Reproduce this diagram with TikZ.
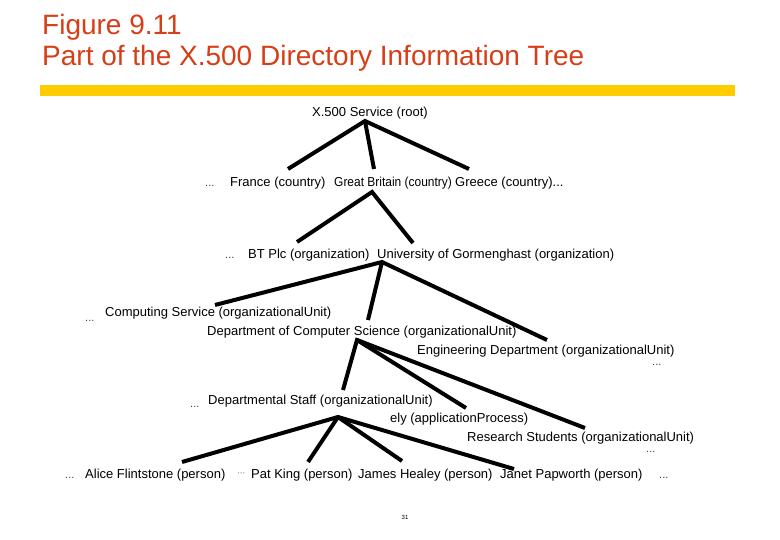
\documentclass[tikz,border=0pt]{standalone}
\usepackage{fontspec}
\usepackage{graphicx}
\setmainfont{Liberation Sans}
\definecolor{titlered}{RGB}{214,62,22}
\definecolor{baryellow}{RGB}{255,204,0}
\begin{document}
\begin{tikzpicture}[x=1pt,y=-1pt,
  lbl/.style={anchor=base west,inner sep=0pt,font=\fontsize{13}{15}\selectfont},
  dots/.style={anchor=base west,inner sep=0pt,text=black!75,font=\fontsize{11}{13}\selectfont},
  ttl/.style={anchor=base west,inner sep=0pt,text=titlered,font=\fontsize{28}{30}\selectfont},
  edge/.style={line width=4pt,black}]
\useasboundingbox (0,0) rectangle (780,540);
% title
\node[ttl] (t1) at (42,35) {Figure 9.11};
\node[ttl] (t2) at (42,66) {Part of the X.500 Directory Information Tree};
\fill[baryellow] (40,85) rectangle (735,96);
% nodes
\node[lbl] (root) at (312,117) {X.500 Service (root)};
\node[dots] (d1) at (205,187) {...};
\node[lbl] (fr) at (230,187) {France (country)};
\node[lbl] (gb) at (334,187) {\scalebox{0.92}[1]{Great Britain (country)}};
\node[lbl] (gr) at (455,187) {Greece (country)...};
\node[dots] (d2) at (225,259) {...};
\node[lbl] (bt) at (248,259) {BT Plc (organization)};
\node[lbl] (ug) at (377,259) {University of Gormenghast (organization)};
\node[dots] (d3) at (85,322) {...};
\node[lbl] (cs) at (105,317) {Computing Service (organizationalUnit)};
\node[lbl] (dcs) at (207,336) {Department of Computer Science (organizationalUnit)};
\node[lbl] (eng) at (417,355) {Engineering Department (organizationalUnit)};
\node[dots] (d4) at (652,366) {...};
\node[dots] (d5) at (190,407) {...};
\node[lbl] (staff) at (208,404) {Departmental Staff (organizationalUnit)};
\node[lbl] (ely) at (390,422) {ely (applicationProcess)};
\node[lbl] (rs) at (467,441) {Research Students (organizationalUnit)};
\node[dots] (d6) at (646,452) {...};
\node[dots] (d7) at (65,478) {...};
\node[lbl] (af) at (85,478) {Alice Flintstone (person)};
\node[dots] (d8) at (237,475) {\fontsize{8}{9}\selectfont ···};
\node[lbl] (pk) at (251,478) {Pat King (person)};
\node[lbl] (jh) at (358,478) {James Healey (person)};
\node[lbl] (jp) at (500,478) {Janet Papworth (person)};
\node[dots] (d9) at (659,478) {...};
\node[inner sep=0pt,font=\fontsize{6}{7}\selectfont] (pg) at (405,517) {31};
% connector points
\coordinate (r0) at (365,121);
\coordinate (rfr) at (288,169);
\coordinate (rgb) at (374,169);
\coordinate (rgr) at (469,169);
\coordinate (g0) at (372,192);
\coordinate (gbt) at (297,242);
\coordinate (gug) at (413,243);
\coordinate (u0) at (382,262);
\coordinate (ucs) at (215,305);
\coordinate (udcs) at (368,320);
\coordinate (ueng) at (547,340);
\coordinate (c0) at (357,340);
\coordinate (cst) at (343,390);
\coordinate (cely) at (466,408);
\coordinate (crs) at (585,428);
\coordinate (s0) at (338,417);
\coordinate (saf) at (182,462);
\coordinate (spk) at (308,462);
\coordinate (sjh) at (402,461);
\coordinate (sjp) at (514,469);
% connectors
\draw[edge] (rfr) -- (r0) -- (rgr);
\draw[edge] (r0) -- (rgb);
\draw[edge] (gbt) -- (g0) -- (gug);
\draw[edge] (ucs) -- (u0) -- (ueng);
\draw[edge] (u0) -- (udcs);
\draw[edge] (cst) -- (c0) -- (crs);
\draw[edge] (c0) -- (cely);
\draw[edge] (saf) -- (s0) -- (sjp);
\draw[edge] (s0) -- (spk);
\draw[edge] (s0) -- (sjh);
\end{tikzpicture}
\end{document}
